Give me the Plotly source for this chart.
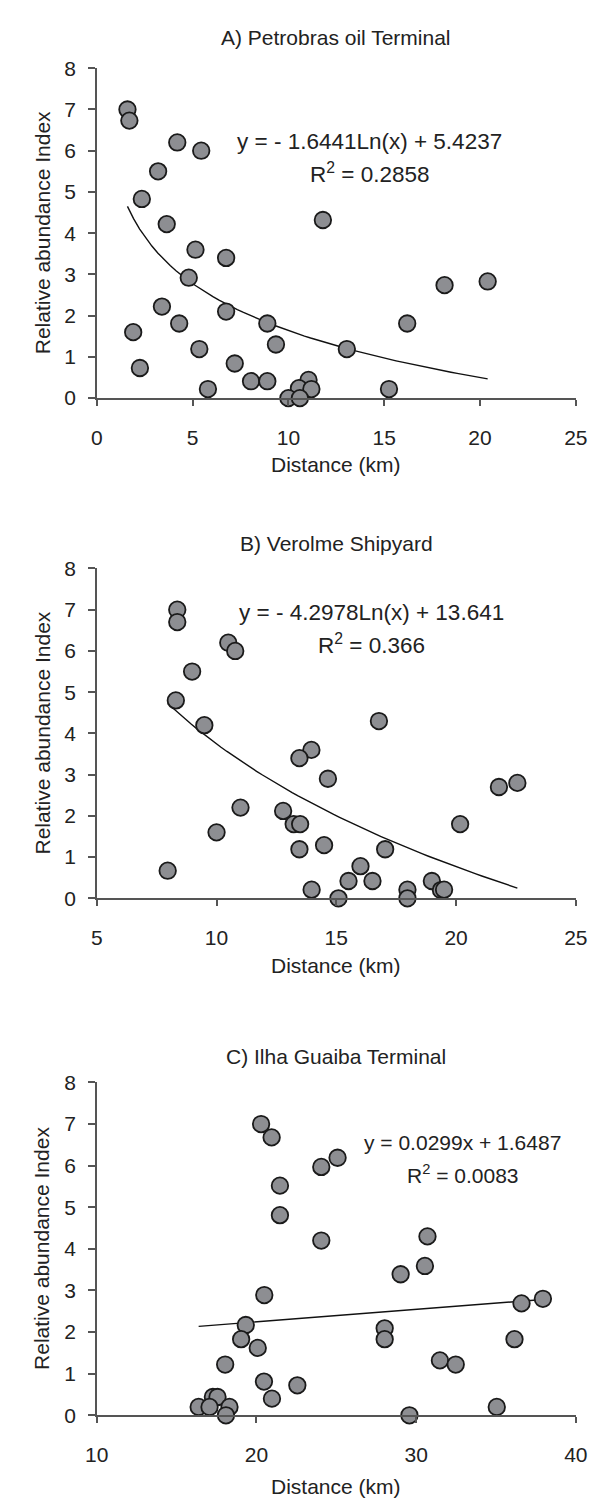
import numpy as np
import plotly.graph_objects as go

W, H = 599, 1501

# ---------------- data ----------------
titles = ["A) Petrobras oil Terminal", "B) Verolme Shipyard", "C) Ilha Guaiba Terminal"]

a_distance = [1.6, 1.7, 4.2, 5.45, 3.2, 2.35, 3.65, 11.8, 5.15, 6.75, 4.8, 18.15, 20.4,
              3.4, 6.75, 4.3, 8.9, 16.2, 1.9, 9.35, 5.35, 13.05, 2.25, 7.2, 8.05, 8.9,
              11.05, 5.8, 10.55, 11.2, 15.25, 10.0, 10.6]
a_index = [7.0, 6.73, 6.2, 6.0, 5.5, 4.83, 4.22, 4.32, 3.6, 3.4, 2.92, 2.74, 2.83,
           2.22, 2.1, 1.81, 1.81, 1.81, 1.6, 1.3, 1.19, 1.19, 0.73, 0.84, 0.41, 0.41,
           0.44, 0.22, 0.24, 0.22, 0.22, 0.0, 0.0]

b_distance = [8.36, 8.36, 10.49, 10.78, 8.98, 8.3, 9.49, 16.78, 13.96, 13.46, 14.65, 21.79, 22.56,
              11.0, 12.78, 13.22, 13.49, 20.17, 10.0, 14.49, 13.46, 17.04, 7.96, 16.01,
              15.51, 16.51, 18.99, 13.97, 17.97, 19.37, 19.5, 15.09, 17.97]
b_index = [7.0, 6.7, 6.2, 6.0, 5.5, 4.8, 4.2, 4.3, 3.6, 3.4, 2.9, 2.7, 2.8,
           2.2, 2.12, 1.8, 1.8, 1.8, 1.6, 1.29, 1.19, 1.19, 0.67, 0.78,
           0.42, 0.42, 0.42, 0.21, 0.21, 0.2, 0.21, 0.0, 0.0]

c_distance = [20.29, 20.95, 24.06, 25.08, 21.47, 21.47, 24.06, 30.71, 30.55, 29.03, 20.49, 36.6, 37.94,
              19.33, 28.03, 28.03, 19.04, 36.16, 20.08, 18.04, 31.49, 32.48, 20.47, 22.56,
              20.97, 17.27, 17.56, 16.38, 17.06, 18.31, 35.05, 18.09, 29.58]
c_index = [7.0, 6.68, 5.97, 6.19, 5.52, 4.81, 4.2, 4.3, 3.59, 3.39, 2.89, 2.69, 2.8,
           2.17, 2.09, 1.83, 1.83, 1.83, 1.62, 1.22, 1.32, 1.22, 0.81, 0.72,
           0.4, 0.44, 0.44, 0.2, 0.2, 0.2, 0.2, 0.0, 0.0]

# trendline coefficients shown on chart
a_slope, a_icpt = -1.6441, 5.4237   # log
b_slope, b_icpt = -4.2978, 13.641   # log
c_slope, c_icpt = 0.0299, 1.6487    # linear

eq_text = ["y = - 1.6441Ln(x) + 5.4237", "y = - 4.2978Ln(x) + 13.641", "y = 0.0299x + 1.6487"]
r2_text = ["R<sup>2</sup> = 0.2858", "R<sup>2</sup> = 0.366", "R<sup>2</sup> = 0.0083"]

x_ranges = [[0, 25], [5, 25], [10, 40]]
x_dticks = [5, 5, 10]
y_ticks = [0, 1, 2, 3, 4, 5, 6, 7, 8]

# ---------------- layout geometry (pixels) ----------------
X0, X1 = 80, 579
panels_px = [(49, 384), (557, 892), (1079, 1417)]
title_y = [18, 532, 1053]
xtitle_y = [451, 960, 1489]
eq_y = [(123, 155), (602, 634), (1140, 1172)]
eq_x = [364, 366, 461]
eq_size = [22.5, 22.5, 21]

FONT = "Liberation Sans, Arial, sans-serif"
TXT = "#222222"
AX = "#555555"

def py(y):
    return 1 - y / H

def px(x):
    return x / W

fig = go.Figure()

datasets = [(a_distance, a_index, "log", a_slope, a_icpt),
            (b_distance, b_index, "log", b_slope, b_icpt),
            (c_distance, c_index, "lin", c_slope, c_icpt)]

annotations = []
for i, (xs, ys, kind, m, c) in enumerate(datasets):
    xa = "x" if i == 0 else f"x{i+1}"
    ya = "y" if i == 0 else f"y{i+1}"
    xt = np.linspace(min(xs), max(xs), 60)
    yt = m * np.log(xt) + c if kind == "log" else m * xt + c
    fig.add_trace(go.Scatter(x=xt, y=yt, mode="lines", xaxis=xa, yaxis=ya,
                             line=dict(color="#111111", width=1.4), showlegend=False,
                             hoverinfo="skip"))
    fig.add_trace(go.Scatter(x=xs, y=ys, mode="markers", xaxis=xa, yaxis=ya,
                             cliponaxis=False, showlegend=False,
                             marker=dict(size=16.5, color="#8d8e92",
                                         line=dict(color="#1a1a1a", width=1.8))))
    top, bot = panels_px[i]
    axis_common = dict(showline=True, linecolor=AX, linewidth=1.5, ticks="outside",
                       tickcolor=AX, tickwidth=1.5, showgrid=False, zeroline=False,
                       tickfont=dict(family=FONT, size=21, color=TXT))
    fig.update_layout(**{
        ("xaxis" if i == 0 else f"xaxis{i+1}"): dict(
            domain=[px(X0), px(X1)], anchor=ya, range=x_ranges[i], dtick=x_dticks[i],
            tick0=x_ranges[i][0], ticklen=6, ticklabelstandoff=14, **axis_common),
        ("yaxis" if i == 0 else f"yaxis{i+1}"): dict(
            domain=[py(bot), py(top)], anchor=xa, range=[0, 8], tickvals=y_ticks,
            ticklen=7, ticklabelstandoff=8, **axis_common),
    })
    mid = (X0 + X1) / 2
    annotations.append(dict(text=titles[i], x=px(mid), y=py(title_y[i]), xref="paper", yref="paper",
                            showarrow=False, xanchor="center", yanchor="middle",
                            font=dict(family=FONT, size=21, color=TXT)))
    annotations.append(dict(text="Distance (km)", x=px(mid), y=py(xtitle_y[i]), xref="paper", yref="paper",
                            showarrow=False, xanchor="center", yanchor="middle",
                            font=dict(family=FONT, size=21, color=TXT)))
    annotations.append(dict(text="Relative abundance Index", x=px(23), y=py((top + bot) / 2),
                            xref="paper", yref="paper", textangle=-90,
                            showarrow=False, xanchor="center", yanchor="middle",
                            font=dict(family=FONT, size=21, color=TXT)))
    annotations.append(dict(text=eq_text[i], x=px(eq_x[i]), y=py(eq_y[i][0]), xref="paper", yref="paper",
                            showarrow=False, xanchor="center", yanchor="middle",
                            font=dict(family=FONT, size=eq_size[i], color=TXT)))
    annotations.append(dict(text=r2_text[i], x=px(eq_x[i]), y=py(eq_y[i][1]), xref="paper", yref="paper",
                            showarrow=False, xanchor="center", yanchor="middle",
                            font=dict(family=FONT, size=eq_size[i], color=TXT)))

fig.update_layout(width=W, height=H, margin=dict(l=0, r=0, t=0, b=0),
                  paper_bgcolor="white", plot_bgcolor="white",
                  annotations=annotations, showlegend=False)

fig.write_html("out.html")
